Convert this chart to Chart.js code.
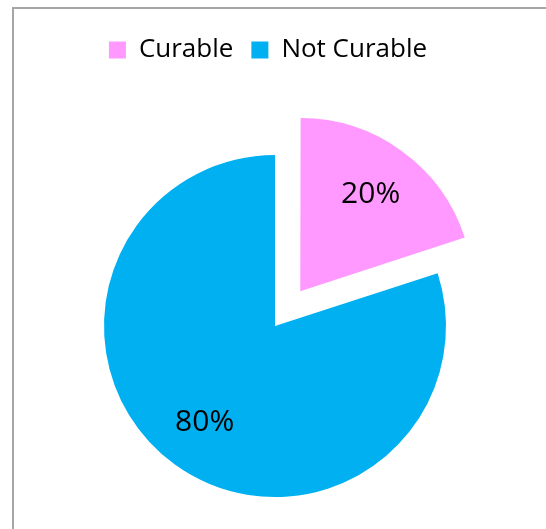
<!DOCTYPE html>
<html>
<head>
<meta charset="utf-8">
<script src="https://cdn.jsdelivr.net/npm/chart.js@4"></script>
<style>
  html, body { margin: 0; padding: 0; background: #fff; overflow: hidden; width: 546px; height: 529px; }
  #frame { position: absolute; left: 12px; top: 7px; width: 600px; height: 600px;
           border-left: 2px solid #a6a6a6; border-top: 2px solid #a6a6a6; }
  #wrap { position: absolute; left: 0; top: 0; width: 546px; height: 579px; }
</style>
</head>
<body>
<div id="frame"></div>
<div id="wrap"><canvas id="c"></canvas></div>
<script>
const categories = ['Curable', 'Not Curable'];
const values = [20, 80];
const colors = ['#FF99FF', '#00B0F0'];
// Chart.js v4 draws an arc shifted by offset / 4 pixels
const explode = [172, 0];

const FONT = '"Open Sans", "Liberation Sans", sans-serif';

const pctLabels = {
  id: 'pctLabels',
  afterDatasetsDraw(chart) {
    const ctx = chart.ctx;
    const meta = chart.getDatasetMeta(0);
    const total = values.reduce((a, b) => a + b, 0);
    ctx.save();
    ctx.font = '30px ' + FONT;
    ctx.fillStyle = '#000';
    ctx.textAlign = 'center';
    ctx.textBaseline = 'middle';
    meta.data.forEach((arc, i) => {
      const p = arc.getProps(['x', 'y', 'startAngle', 'endAngle', 'outerRadius'], true);
      const mid = (p.startAngle + p.endAngle) / 2;
      const off = (arc.options.offset || 0) / 4;
      const d = off + p.outerRadius * 0.7;
      const tx = p.x + Math.cos(mid) * d;
      const ty = p.y + Math.sin(mid) * d;
      ctx.fillText(Math.round(values[i] / total * 100) + '%', tx, ty);
    });
    ctx.restore();
  }
};

const legendShift = {
  id: 'legendShift',
  afterLayout(chart) {
    if (chart.legend) { chart.legend.left -= 7; chart.legend.right -= 7; }
  }
};

new Chart(document.getElementById('c'), {
  type: 'pie',
  data: {
    labels: categories,
    datasets: [{
      data: values,
      backgroundColor: colors,
      borderWidth: 0,
      offset: explode,
      hoverOffset: 0
    }]
  },
  options: {
    responsive: true,
    maintainAspectRatio: false,
    animation: false,
    radius: 171,
    layout: { padding: { top: 19, left: 4, right: 0, bottom: 0 } },
    plugins: {
      tooltip: { enabled: false },
      legend: {
        position: 'top',
        labels: {
          boxWidth: 17,
          boxHeight: 17,
          padding: 18,
          color: '#000',
          font: { family: FONT, size: 26 }
        }
      }
    }
  },
  plugins: [pctLabels, legendShift]
});
</script>
</body>
</html>
